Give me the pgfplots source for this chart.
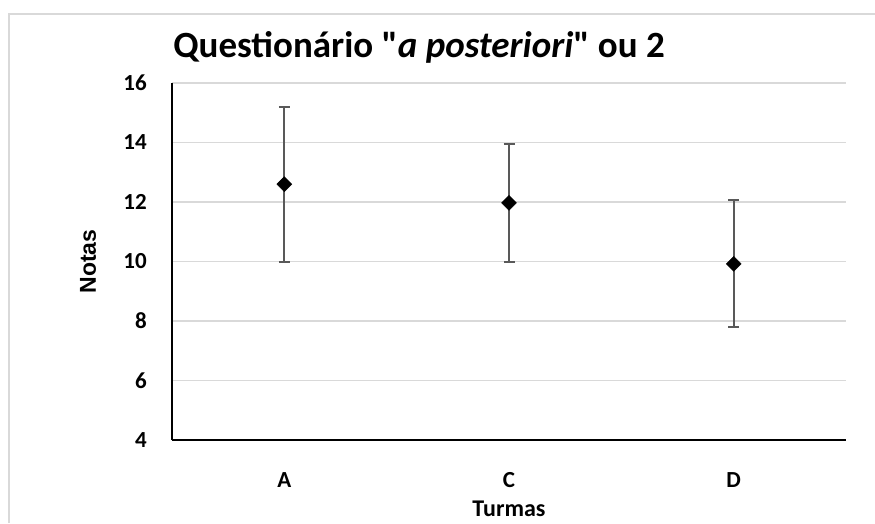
\documentclass[border=0pt]{standalone}
\usepackage{pgfplots}
\pgfplotsset{compat=1.18}
\usepackage{fontspec}
\setmainfont{Carlito}[Ligatures=TeXOff]
\newfontfamily\arialfont{Liberation Sans}
\definecolor{gridgray}{HTML}{D9D9D9}
\definecolor{errgray}{HTML}{595959}
\begin{document}
\begin{tikzpicture}[x=1pt,y=1pt]
\useasboundingbox (0,0) rectangle (875,523);
\draw[gridgray, line width=2pt] (8.5,0) -- (8.5,509) -- (875,509);
\begin{axis}[
  at={(172pt,83pt)}, anchor=south west,
  scale only axis, width=674pt, height=357pt,
  xmin=-0.5, xmax=2.5, ymin=4, ymax=16,
  xtick={0,1,2}, xticklabels={A,C,D},
  ytick={4,6,8,10,12,14,16},
  major tick length=0pt,
  axis x line*=bottom, axis y line*=left,
  axis line style={-, line width=1.8pt, black},
  ymajorgrids, grid style={gridgray, line width=1.8pt},
  /pgf/number format/assume math mode=true,
  tick label style={font=\fontsize{23}{26}\selectfont\bfseries, inner sep=0pt},
  yticklabel style={anchor=east, xshift=-25pt},
  xticklabel style={anchor=north, yshift=-32pt},
  title={Questionário "\textit{a posteriori}" ou 2},
  title style={font=\fontsize{37}{41}\selectfont\bfseries, at={(0.3665,1)}, anchor=base, yshift=20pt, inner sep=0pt},
  xlabel={Turmas},
  xlabel style={font=\fontsize{24}{27}\selectfont\bfseries, at={(0.5,0)}, anchor=base, yshift=-76pt, inner sep=0pt},
  ylabel={Notas},
  ylabel style={font=\arialfont\fontsize{23}{26}\selectfont\bfseries, at={(0,0.5)}, anchor=center, yshift=84pt, inner sep=0pt},
  clip=false,
]
\addplot[only marks, mark=square*, mark size=5.3pt, mark options={fill=black, draw=black, rotate=45},
  error bars/.cd, y dir=both, y explicit,
  error bar style={line width=2pt, draw=errgray},
  error mark options={line width=2pt, draw=errgray, mark size=5.5pt, rotate=90}]
  table[x=x, y=y, y error plus=ep, y error minus=em] {
x y ep em
0 12.60 2.61 2.60
1 11.97 1.98 1.97
2 9.92 2.15 2.13
};
\end{axis}
\end{tikzpicture}
\end{document}
